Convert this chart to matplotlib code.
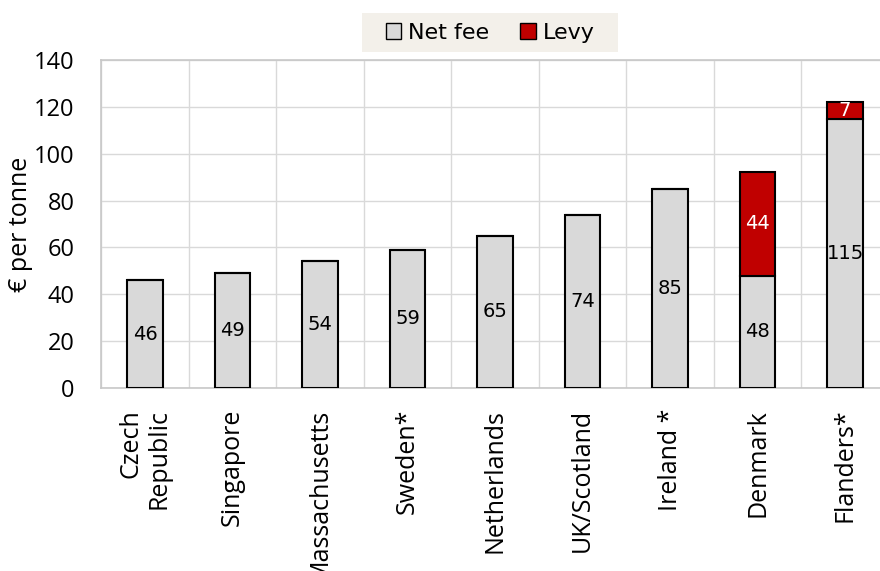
import numpy as np
import matplotlib
matplotlib.use("Agg")
import matplotlib.pyplot as plt
from matplotlib.patches import Patch, Rectangle

countries = ["Czech\nRepublic", "Singapore", "Massachusetts", "Sweden*", "Netherlands",
             "UK/Scotland", "Ireland *", "Denmark", "Flanders*"]
net_fee = [46, 49, 54, 59, 65, 74, 85, 48, 115]
levy = [0, 0, 0, 0, 0, 0, 0, 44, 7]

grey = "#d9d9d9"
red = "#c00000"

fig = plt.figure(figsize=(8.8, 5.71), dpi=100)
ax = fig.add_axes([0.115, 0.3205, 0.895, 0.5745])

x = np.arange(len(countries))
w = 0.41
ax.bar(x, net_fee, width=w, color=grey, edgecolor="black", linewidth=1.5, zorder=3)
ax.bar(x, levy, width=w, bottom=net_fee, color=red, edgecolor="black", linewidth=1.5, zorder=3)

for i in range(len(countries)):
    ax.text(x[i], net_fee[i] / 2, str(net_fee[i]), ha="center", va="center",
            fontsize=14, family="DejaVu Sans", color="black", zorder=4)
    if levy[i] > 0:
        ax.text(x[i], net_fee[i] + levy[i] / 2, str(levy[i]), ha="center", va="center",
                fontsize=14, family="DejaVu Sans", color="white", zorder=4)

ax.set_ylim(0, 140)
ax.set_xlim(-0.5, len(countries) - 0.5)
ax.set_yticks(range(0, 141, 20))
ax.set_xticks(x)
ax.set_xticklabels(countries, rotation=90, ha="center", va="top", multialignment="right",
                   family="Open Sans", fontsize=18)
for t in ax.get_yticklabels():
    t.set_family("Open Sans")
    t.set_fontsize(17)
ax.set_xticks(np.arange(-0.5, len(countries), 1), minor=True)
ax.tick_params(axis="both", which="both", length=0)
ax.tick_params(axis="y", pad=19)
ax.tick_params(axis="x", pad=15)
ax.grid(axis="y", color=grey, linewidth=1, zorder=0)
ax.grid(axis="x", which="minor", color=grey, linewidth=1, zorder=0)
for s in ax.spines.values():
    s.set_color("#c8c8c8")
    s.set_linewidth(1.2)

ax.set_ylabel("€ per tonne", family="Open Sans", fontsize=18)
ax.yaxis.set_label_coords(-0.087, 0.5)

# legend background box
fig.patches.append(Rectangle((0.411, 0.909), 0.291, 0.068, transform=fig.transFigure,
                             facecolor="#f3f0ea", edgecolor="none", zorder=0))
handles = [Patch(facecolor=grey, edgecolor="black", label="Net fee"),
           Patch(facecolor=red, edgecolor="black", label="Levy")]
leg = fig.legend(handles=handles, loc="center", bbox_to_anchor=(0.557, 0.943), ncol=2,
                 frameon=False, prop={"family": "DejaVu Sans", "size": 16},
                 handlelength=0.7, handleheight=0.7, handletextpad=0.3, columnspacing=1.4,
                 borderpad=0.2)

fig.savefig("out.png", dpi=100)
